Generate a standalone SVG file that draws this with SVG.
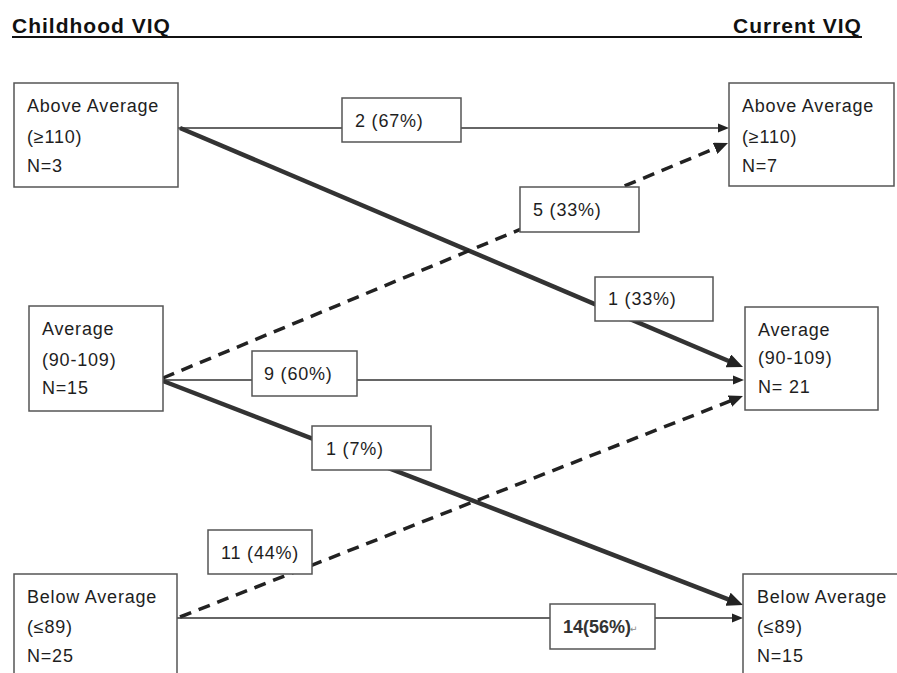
<svg xmlns="http://www.w3.org/2000/svg" width="897" height="673" viewBox="0 0 897 673">
<style>
.t{font-family:"Liberation Sans",Arial,sans-serif;font-size:18px;letter-spacing:0.8px;fill:#1e1e1e}
.h{font-family:"Liberation Sans",Arial,sans-serif;font-size:21px;font-weight:bold;letter-spacing:1px;fill:#111}
.box{fill:#fff;stroke:#555;stroke-width:1.5}
.thin{stroke:#333;stroke-width:1.5;fill:none}
.thick{stroke:#333;stroke-width:4.5;fill:none}
.dash{stroke:#222;stroke-width:3.5;fill:none;stroke-dasharray:12 8}
</style>
<defs>
<marker id="aThin" markerUnits="userSpaceOnUse" markerWidth="12" markerHeight="10" refX="7" refY="5" orient="auto"><path d="M0,0.5 L11,5 L0,9.5 z" fill="#222"/></marker>
<marker id="aThick" markerUnits="userSpaceOnUse" markerWidth="17" markerHeight="14" refX="10" refY="7" orient="auto"><path d="M0,0 L16,7 L0,14 z" fill="#222"/></marker>
<marker id="aDash" markerUnits="userSpaceOnUse" markerWidth="15" markerHeight="12" refX="9" refY="6" orient="auto"><path d="M0,0 L14,6 L0,12 z" fill="#222"/></marker>
</defs>
<rect width="897" height="673" fill="#fff"/>
<g id="headers">
<text class="h" x="12" y="33">Childhood VIQ</text>
<text class="h" x="733" y="33">Current VIQ</text>
<line x1="12" y1="37" x2="862" y2="37" stroke="#111" stroke-width="2"/>
</g>
<g id="connectors">
<line class="thin" x1="178" y1="128" x2="725" y2="128" marker-end="url(#aThin)"/>
<line class="thick" x1="180" y1="128" x2="737.5" y2="364.7" marker-end="url(#aThick)"/>
<line class="dash" x1="163" y1="378" x2="723.4" y2="144.9" marker-end="url(#aDash)"/>
<line class="thin" x1="163" y1="380" x2="740" y2="380" marker-end="url(#aThin)"/>
<line class="thick" x1="163" y1="381" x2="737.4" y2="602.8" marker-end="url(#aThick)"/>
<line class="dash" x1="180" y1="617" x2="738.3" y2="397.8" marker-end="url(#aDash)"/>
<line class="thin" x1="177" y1="618" x2="739" y2="618" marker-end="url(#aThin)"/>
<g id="lbl-2-67"><rect class="box" x="342" y="98" width="119" height="44"/><text class="t" x="355" y="127">2 (67%)</text></g>
<g id="lbl-5-33"><rect class="box" x="520" y="187" width="119" height="45"/><text class="t" x="533" y="216">5 (33%)</text></g>
<g id="lbl-1-33"><rect class="box" x="595" y="277" width="118" height="44"/><text class="t" x="608" y="305">1 (33%)</text></g>
<g id="lbl-9-60"><rect class="box" x="252" y="351" width="105" height="45"/><text class="t" x="264" y="380">9 (60%)</text></g>
<g id="lbl-1-7"><rect class="box" x="312" y="426" width="119" height="44"/><text class="t" x="326" y="455">1 (7%)</text></g>
<g id="lbl-11-44"><rect class="box" x="208" y="530" width="104" height="44"/><text class="t" x="221" y="559">11 (44%)</text></g>
<g id="lbl-14-56"><rect class="box" x="550" y="604" width="105" height="45"/><text class="t" x="563" y="633" style="letter-spacing:0px;font-weight:bold;fill:#333">14(56%)</text><text x="630" y="632" style="font-family:'DejaVu Sans',sans-serif;font-size:9px;fill:#888">↵</text></g>
</g>
<g id="child-above"><rect class="box" x="14" y="83" width="164" height="104"/><text class="t" x="27" y="112">Above Average</text><text class="t" x="27" y="143">(≥110)</text><text class="t" x="27" y="172">N=3</text></g>
<g id="child-average"><rect class="box" x="29" y="306" width="134" height="105"/><text class="t" x="42" y="335">Average</text><text class="t" x="42" y="366">(90-109)</text><text class="t" x="42" y="394">N=15</text></g>
<g id="child-below"><rect class="box" x="14" y="574" width="163" height="120"/><text class="t" x="27" y="603">Below Average</text><text class="t" x="27" y="633">(≤89)</text><text class="t" x="27" y="662">N=25</text></g>
<g id="curr-above"><rect class="box" x="729" y="83" width="165" height="103"/><text class="t" x="742" y="112">Above Average</text><text class="t" x="742" y="143">(≥110)</text><text class="t" x="742" y="172">N=7</text></g>
<g id="curr-average"><rect class="box" x="745" y="307" width="133" height="103"/><text class="t" x="758" y="336">Average</text><text class="t" x="758" y="364">(90-109)</text><text class="t" x="758" y="393">N= 21</text></g>
<g id="curr-below"><rect class="box" x="743" y="574" width="170" height="120"/><text class="t" x="757" y="603">Below Average</text><text class="t" x="757" y="633">(≤89)</text><text class="t" x="757" y="662">N=15</text></g>
</svg>
